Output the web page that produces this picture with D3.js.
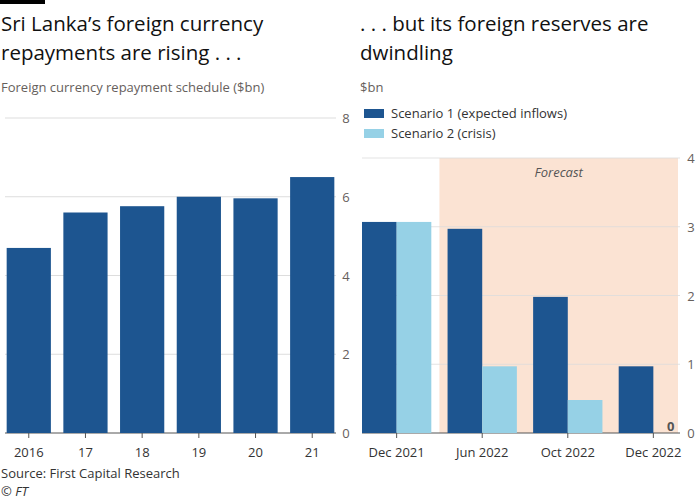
<!DOCTYPE html><html><head><script src="https://cdn.jsdelivr.net/npm/d3@7"></script>
<style>body{margin:0;background:#fff}text{font-family:"Open Sans",sans-serif}</style></head><body>
<script>
const years=["2016","17","18","19","20","21"];
const repay=[4.7,5.6,5.76,6.0,5.96,6.5];
const periods=["Dec 2021","Jun 2022","Oct 2022","Dec 2022"];
const scen1=[3.07,2.97,1.98,0.97];
const scen2=[3.07,0.97,0.48,0];
const leftTicks=[0,2,4,6,8], rightTicks=[0,1,2,3,4];
const dark="#1d5590", light="#96d1e6", grid="#ddd", txt="#333", gray="#66605c";
const svg=d3.select("body").append("svg").attr("width",700).attr("height",500);
svg.append("rect").attr("x",0).attr("y",0).attr("width",45).attr("height",4).attr("fill","#000");
function title(x,lines){lines.forEach((l,i)=>svg.append("text").attr("x",x).attr("y",31+i*29).attr("font-size",20.5).attr("fill","#111").text(l));}
title(1,["Sri Lanka’s foreign currency","repayments are rising . . ."]);
title(360,[". . . but its foreign reserves are","dwindling"]);
svg.append("text").attr("x",1).attr("y",92).attr("font-size",13).attr("fill",gray).text("Foreign currency repayment schedule ($bn)");
svg.append("text").attr("x",360).attr("y",92).attr("font-size",13).attr("fill",gray).text("$bn");
// left
const yL=d3.scaleLinear().domain([0,8]).range([433,118]);
const xL=d3.scaleBand().domain(years).range([1,340]).paddingInner(0.22).paddingOuter(0.1);
leftTicks.forEach(t=>{svg.append("line").attr("x1",5).attr("x2",336).attr("y1",yL(t)).attr("y2",yL(t)).attr("stroke",t?grid:"#555");
 svg.append("text").attr("x",346).attr("y",yL(t)+5).attr("font-size",13).attr("fill",gray).attr("text-anchor","middle").text(t);});
svg.selectAll(".bl").data(repay).join("rect").attr("x",(d,i)=>xL(years[i])).attr("width",xL.bandwidth()).attr("y",d=>yL(d)).attr("height",d=>433-yL(d)).attr("fill",dark);
years.forEach(y=>{const cx=xL(y)+xL.bandwidth()/2;svg.append("line").attr("x1",cx).attr("x2",cx).attr("y1",433).attr("y2",438).attr("stroke","#555");
 svg.append("text").attr("x",cx).attr("y",457).attr("font-size",13).attr("fill",txt).attr("text-anchor","middle").text(y);});
// right
const yR=d3.scaleLinear().domain([0,4]).range([433,158]);
const xR=d3.scaleBand().domain(periods).range([362,688]).paddingInner(0.19).paddingOuter(0);
const bw=xR.bandwidth()/2;
const bandX=(xR(periods[0])+xR.bandwidth()+xR(periods[1]))/2;
svg.append("rect").attr("x",bandX).attr("y",158).attr("width",678-bandX).attr("height",275).attr("fill","#fbe3d3");
svg.append("text").attr("x",(bandX+678)/2).attr("y",177).attr("font-size",13).attr("font-style","italic").attr("fill","#555").attr("text-anchor","middle").text("Forecast");
rightTicks.forEach(t=>{svg.append("line").attr("x1",362).attr("x2",680).attr("y1",yR(t)).attr("y2",yR(t)).attr("stroke",t?grid:"#555").attr("opacity",t?0.8:1);
 svg.append("text").attr("x",691).attr("y",yR(t)+5).attr("font-size",13).attr("fill",gray).attr("text-anchor","middle").text(t);});
svg.selectAll(".s1").data(scen1).join("rect").attr("x",(d,i)=>xR(periods[i])).attr("width",bw).attr("y",d=>yR(d)).attr("height",d=>433-yR(d)).attr("fill",dark);
svg.selectAll(".s2").data(scen2).join("rect").attr("x",(d,i)=>xR(periods[i])+bw).attr("width",bw).attr("y",d=>yR(d)).attr("height",d=>433-yR(d)).attr("fill",light);
scen2.forEach((d,i)=>{if(d===0)svg.append("text").attr("x",xR(periods[i])+bw*1.5).attr("y",431).attr("font-size",13).attr("font-weight","bold").attr("fill","#555").attr("text-anchor","middle").text("0");});
periods.forEach(p=>{const cx=xR(p)+bw;svg.append("line").attr("x1",cx).attr("x2",cx).attr("y1",433).attr("y2",438).attr("stroke","#555");
 svg.append("text").attr("x",cx).attr("y",457).attr("font-size",13).attr("fill",txt).attr("text-anchor","middle").text(p);});
// legend
[["Scenario 1 (expected inflows)",dark],["Scenario 2 (crisis)",light]].forEach((l,i)=>{
 svg.append("rect").attr("x",364).attr("y",109+i*20).attr("width",20).attr("height",9).attr("fill",l[1]);
 svg.append("text").attr("x",391).attr("y",118+i*20).attr("font-size",13).attr("fill",txt).text(l[0]);});
svg.append("text").attr("x",1).attr("y",478).attr("font-size",13).attr("fill",txt).text("Source: First Capital Research");
svg.append("text").attr("x",1).attr("y",496).attr("font-size",13).attr("font-style","italic").attr("fill",txt).text("© FT");
</script></body></html>
